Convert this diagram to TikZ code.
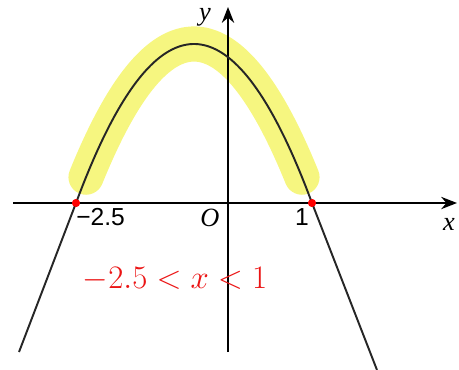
\documentclass[tikz,border=0pt]{standalone}
\usepackage{fontspec}
\usepackage{graphicx}
\setmainfont{Liberation Serif}
\setsansfont{Liberation Sans}
\usetikzlibrary{arrows.meta,positioning}
\definecolor{hilite}{RGB}{246,246,128}
\definecolor{pen}{RGB}{235,20,20}

\begin{document}
\begin{tikzpicture}[
    x=0.02cm, y=-0.02cm,
    axis/.style={line width=1.1pt, -{Stealth[length=9pt,width=7pt]}},
    graph/.style={line width=1.1pt, black!85},
    marker/.style={line width=20pt, hilite, line cap=round},
    dot/.style={circle, fill=red, inner sep=0pt, minimum size=4.5pt},
    num/.style={font=\sffamily\fontsize{14}{16}\selectfont, inner sep=0pt},
    var/.style={font=\itshape\fontsize{15}{17}\selectfont, inner sep=0pt},
    hand/.style={font=\fontsize{20}{22}\selectfont, text=pen, inner sep=0pt}
  ]
  \useasboundingbox (0,0) rectangle (459,369);

  % Highlight
  \draw[marker] plot[domain=86:302, samples=60, smooth] (\x, {203-159*(1-((\x-194)/118)^2)});

  % Axes
  \coordinate (xs) at (13,203);
  \coordinate (xe) at (457,203);
  \coordinate (ys) at (228,352);
  \coordinate (ye) at (228,7);
  \draw[axis] (xs) -- (xe);
  \draw[axis] (ys) -- (ye);

  % Roots
  \node[dot] (r1) at (76,203) {};
  \node[dot] (r2) at (312,203) {};
  \coordinate (bl) at (19,352);
  \coordinate (br) at (377,370);

  % Graph
  \draw[graph] plot[domain=76:312, samples=80, smooth] (\x, {203-159*(1-((\x-194)/118)^2)});
  \draw[graph] (r1.center) -- (bl);
  \draw[graph] (r2.center) -- (br);
  \node[dot] at (r1) {};
  \node[dot] at (r2) {};

  % Labels
  \node[num, anchor=west] (lm) at (76,217) {\textminus 2.5};
  \node[num] (l1) at (302,217) {1};
  \node[var] (lo) at (210,218) {O};
  \node[var] (lx) at (449,224) {x};
  \node[var] (ly) at (205,17) {y};

  % Answer
  \node[hand] (ans) at (175,279) {\scalebox{0.9}{$-2.5 < x < 1$}};
\end{tikzpicture}
\end{document}
